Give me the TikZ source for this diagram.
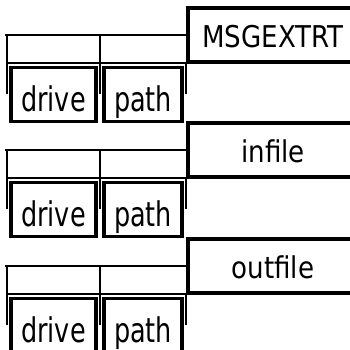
\documentclass[tikz,border=0pt]{standalone}
\usepackage{fontspec}
\usepackage{tikz}
\newfontfamily\labelfont[FakeStretch=0.87]{DejaVu Sans}
\newfontfamily\partfont[FakeStretch=0.75]{DejaVu Sans}

\begin{document}
\begin{tikzpicture}[x=1pt, y=-1pt,
    namebox/.style={rectangle, draw, line width=3.5pt, minimum width=170pt,
                    minimum height=54pt, inner sep=0pt, text height=24pt, text depth=0pt,
                    font=\labelfont\fontsize{30}{36}\selectfont},
    partbox/.style={rectangle, draw, line width=3.5pt, minimum height=54pt,
                    inner sep=0pt, text height=33pt, text depth=0pt,
                    font=\partfont\fontsize{34}{40}\selectfont},
    thinline/.style={line width=1.3pt},
    midline/.style={line width=2.5pt}
]
    \useasboundingbox (0,0) rectangle (350,349);
    \clip (0,0) rectangle (350,349);

    \foreach \off/\id/\lbl in {0/a/MSGEXTRT, 115/b/infile, 231/c/outfile} {
        % Bracket
        \draw[thinline] (5,35+\off) -- (188,35+\off);
        \draw[thinline] (7,35+\off) -- (7,94+\off);
        \draw[midline] (100,35+\off) -- (100,94+\off);
        \draw[midline] (7,63+\off) -- (186,63+\off);
        \draw[thinline] (186,63+\off) -- (186,94+\off);

        % Name box
        \node[namebox] (label\id) at (273,35+\off) {\lbl};

        % Drive and path
        \node[partbox, minimum width=85pt] (drive\id) at (53.5,94.5+\off) {drive};
        \node[partbox, minimum width=78pt] (path\id) at (143,94.5+\off) {path};
    }
\end{tikzpicture}
\end{document}
